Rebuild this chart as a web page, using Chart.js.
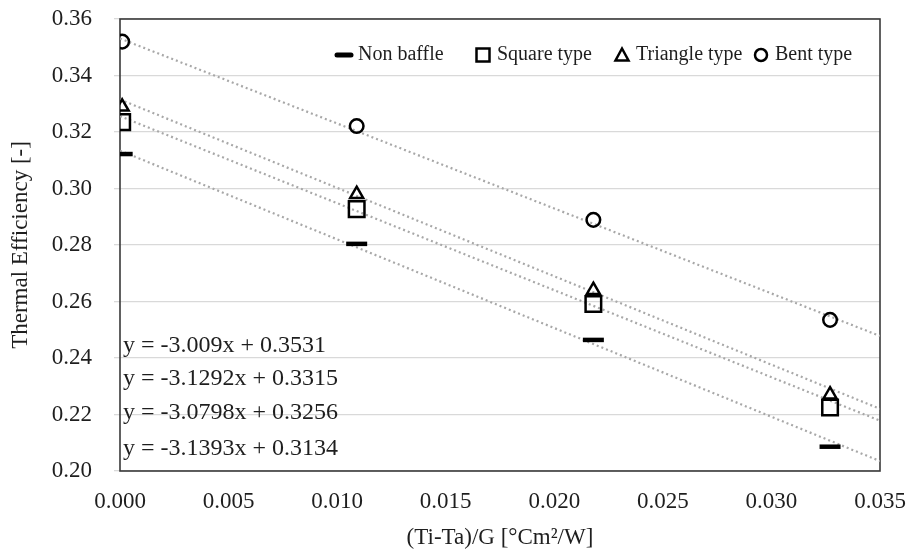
<!DOCTYPE html>
<html><head><meta charset="utf-8">
<script src="https://cdn.jsdelivr.net/npm/chart.js@4.4.0/dist/chart.umd.min.js"></script>
<style>html,body{margin:0;padding:0;background:#fff;} #wrap{width:906px;height:552px;}</style>
</head><body><div id="wrap"><canvas id="c" width="906" height="552"></canvas></div>
<script>
const seriesNames = ['Non baffle', 'Square type', 'Triangle type', 'Bent type'];
const xValues = [0.0001, 0.0109, 0.0218, 0.0327];
const nonBaffle = [0.3122, 0.2804, 0.2464, 0.2086];
const squareType = [0.3235, 0.2927, 0.2591, 0.2225];
const triangleType = [0.3289, 0.2980, 0.2640, 0.2270];
const bentType = [0.3520, 0.3221, 0.2889, 0.2535];
const trendX = [0, 0.035];
const trendNon = [0.3134, 0.2035];
const trendSquare = [0.3256, 0.2178];
const trendTriangle = [0.3315, 0.2220];
const trendBent = [0.3531, 0.2478];
const equations = ['y = -3.009x + 0.3531', 'y = -3.1292x + 0.3315', 'y = -3.0798x + 0.3256', 'y = -3.1393x + 0.3134'];
const xTicks = [0, 0.005, 0.010, 0.015, 0.020, 0.025, 0.030, 0.035];
const yTicks = [0.20, 0.22, 0.24, 0.26, 0.28, 0.30, 0.32, 0.34, 0.36];

const FONT = '"Liberation Serif", "Times New Roman", serif';
const TXT = '#1e1e1e';

function pts(xs, ys) { return xs.map((x, i) => ({ x: x, y: ys[i] })); }

const markerStyles = [
  { pointStyle: 'line', radius: 10.5, borderWidth: 4.5 },
  { pointStyle: 'rect', radius: 11, borderWidth: 2.5 },
  { pointStyle: 'triangle', radius: 7.5, borderWidth: 2.5 },
  { pointStyle: 'circle', radius: 6.8, borderWidth: 2.5 }
];
const seriesValues = [nonBaffle, squareType, triangleType, bentType];
const trendValues = [trendNon, trendSquare, trendTriangle, trendBent];
const orders = [4, 3, 2, 1];

const datasets = [];
seriesValues.forEach((vals, i) => {
  datasets.push({
    label: seriesNames[i],
    data: pts(xValues, vals),
    showLine: false,
    pointStyle: markerStyles[i].pointStyle,
    pointRadius: markerStyles[i].radius,
    pointBorderWidth: markerStyles[i].borderWidth,
    pointBorderColor: '#000',
    pointBackgroundColor: 'rgba(0,0,0,0)',
    borderColor: '#000',
    order: orders[i]
  });
});
trendValues.forEach((vals, i) => {
  datasets.push({
    label: 'trend ' + seriesNames[i],
    data: pts(trendX, vals),
    showLine: true,
    pointRadius: 0,
    borderColor: '#a8a8a8',
    borderWidth: 2.2,
    borderDash: [2, 3],
    fill: false,
    order: 10
  });
});

const frame = {
  id: 'frame',
  beforeDatasetsDraw(chart) {
    const { ctx, chartArea: a } = chart;
    ctx.save();
    ctx.strokeStyle = '#3a3a3a';
    ctx.lineWidth = 1.6;
    ctx.strokeRect(a.left, a.top, a.right - a.left, a.bottom - a.top);
    ctx.restore();
  },
  afterDraw(chart) {
    const { ctx, chartArea: a } = chart;
    ctx.save();
    ctx.fillStyle = TXT;
    ctx.font = '24px ' + FONT;
    ctx.textBaseline = 'middle';
    ctx.textAlign = 'left';
    const eqY = [346, 379, 413, 449];
    equations.forEach((t, i) => ctx.fillText(t, a.left + 3, eqY[i]));
    const lx = 335, colW = 139, ly = 55;
    ctx.font = '20px ' + FONT;
    seriesNames.forEach((name, i) => {
      const x0 = lx + i * colW;
      const cx = x0 + 9;
      ctx.strokeStyle = '#000';
      ctx.fillStyle = '#000';
      ctx.lineWidth = 2.5;
      if (i === 0) {
        ctx.lineWidth = 5;
        ctx.lineCap = 'round';
        ctx.beginPath(); ctx.moveTo(cx - 7, ly); ctx.lineTo(cx + 7, ly); ctx.stroke();
        ctx.lineCap = 'butt';
      } else if (i === 1) {
        ctx.strokeRect(cx - 6.5, ly - 6.5, 13, 13);
      } else if (i === 2) {
        ctx.beginPath(); ctx.moveTo(cx, ly - 6.5); ctx.lineTo(cx + 6.5, ly + 5.5); ctx.lineTo(cx - 6.5, ly + 5.5); ctx.closePath(); ctx.stroke();
      } else {
        ctx.beginPath(); ctx.arc(cx, ly, 6, 0, Math.PI * 2); ctx.stroke();
      }
      ctx.fillStyle = TXT;
      ctx.fillText(name, x0 + 23, ly);
    });
    ctx.restore();
  }
};

new Chart(document.getElementById('c'), {
  type: 'scatter',
  data: { datasets },
  plugins: [frame],
  options: {
    responsive: false,
    devicePixelRatio: 1,
    animation: false,
    layout: { padding: { top: 19, right: 26, left: 0, bottom: 0 } },
    plugins: { legend: { display: false }, tooltip: { enabled: false } },
    scales: {
      x: {
        type: 'linear', min: 0, max: 0.035,
        afterBuildTicks(s) { s.ticks = xTicks.map(v => ({ value: v })); },
        afterFit(s) { s.height = 81; s.paddingLeft = 0; s.paddingRight = 0; },
        ticks: { callback: v => Number(v).toFixed(3), color: TXT, font: { family: FONT, size: 23 }, padding: 17, maxRotation: 0 },
        grid: { display: false, drawTicks: false },
        border: { display: false },
        title: { display: true, text: '(Ti-Ta)/G [°Cm²/W]', color: TXT, font: { family: FONT, size: 23 }, padding: { top: 0, bottom: 0 } }
      },
      y: {
        type: 'linear', min: 0.20, max: 0.36,
        afterBuildTicks(s) { s.ticks = yTicks.map(v => ({ value: v })); },
        afterFit(s) { s.width = 120; s.paddingTop = 0; s.paddingBottom = 0; },
        ticks: { callback: v => Number(v).toFixed(2), color: TXT, font: { family: FONT, size: 23 }, padding: 22 },
        grid: { color: '#d9d9d9', lineWidth: 1.3, tickLength: 6, drawTicks: true },
        border: { display: false },
        title: { display: true, text: 'Thermal Efficiency [-]', color: TXT, font: { family: FONT, size: 23 }, padding: { top: 7, bottom: 0 } }
      }
    }
  }
});
</script></body></html>
